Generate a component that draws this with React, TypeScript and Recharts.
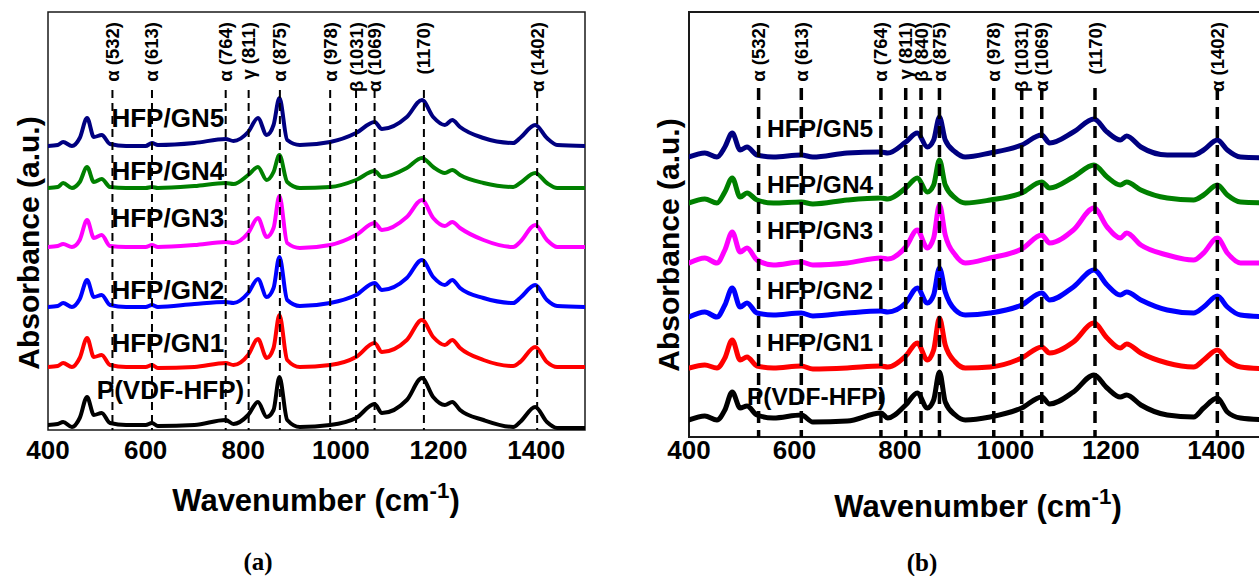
import React from 'react';
import {
  LineChart,
  Line,
  XAxis,
  YAxis,
  ReferenceLine,
  ReferenceDot,
  ReferenceArea,
} from 'recharts';

const FONT = '"Liberation Sans", Arial, Helvetica, sans-serif';

// ---------- Panel (a) ----------
const wavenumbersA = [
  400, 420, 431, 449, 465, 480, 494, 510, 527, 560, 600, 613, 625, 700, 764, 780, 810, 830, 848,
  862, 874, 890, 916, 978, 1031, 1069, 1084, 1135, 1166, 1189, 1213, 1228, 1244, 1292, 1353, 1367,
  1398, 1422, 1443, 1500,
];
// absorbance (a.u., stacked with vertical offsets)
const pvdfHfpA = [
  5, 6, 8, 3, 12, 33, 15, 17, 7, 5, 5, 7, 4, 5, 10, 6, 15, 28, 13, 20, 53, 10, 3, 5, 12, 26, 17,
  30, 52, 33, 25, 28, 20, 10, 3, 8, 23, 8, 2, 2,
];
const gn1A = [
  63, 64, 67, 63, 72, 92, 73, 75, 65, 63, 63, 65, 62, 63, 67, 65, 75, 91, 72, 82, 115, 70, 63, 65,
  73, 87, 78, 90, 110, 93, 85, 90, 82, 70, 64, 68, 83, 68, 63, 63,
];
const gn2A = [
  123, 124, 127, 123, 131, 150, 133, 135, 125, 123, 123, 125, 123, 126, 128, 127, 137, 151, 133, 142,
  173, 130, 124, 127, 135, 147, 140, 152, 170, 153, 145, 150, 142, 132, 127, 132, 145, 130, 124, 123,
];
const gn3A = [
  183, 184, 186, 183, 190, 210, 192, 195, 184, 183, 183, 185, 183, 185, 188, 187, 197, 212, 193, 202,
  234, 187, 182, 185, 195, 207, 200, 213, 230, 212, 204, 208, 202, 190, 183, 188, 205, 190, 183, 183,
];
const gn4A = [
  242, 243, 247, 242, 248, 263, 248, 251, 243, 242, 242, 243, 242, 244, 247, 246, 255, 263, 250, 258,
  275, 248, 242, 243, 250, 259, 253, 262, 272, 263, 257, 260, 255, 247, 243, 247, 257, 247, 242, 242,
];
const gn5A = [
  284, 285, 288, 284, 292, 312, 293, 295, 286, 284, 284, 287, 285, 287, 291, 289, 298, 312, 295, 305,
  332, 290, 285, 288, 297, 308, 301, 313, 330, 313, 305, 310, 303, 292, 287, 292, 305, 292, 285, 284,
];
const bandWnA = [532, 613, 764, 811, 875, 978, 1031, 1069, 1170, 1402];
const bandTextA = ['α (532)', 'α (613)', 'α (764)', 'γ (811)', 'α (875)', 'α (978)', 'β (1031)', 'α (1069)', '(1170)', 'α (1402)'];
const sampleAnchorsA = [
  [530, 312],
  [530, 259],
  [530, 212],
  [530, 140],
  [530, 87],
  [500, 40],
];

// ---------- Panel (b) ----------
const wavenumbersB = [
  400, 430, 453, 468, 482, 497, 510, 529, 560, 613, 635, 700, 764, 777, 811, 833, 852, 864, 875, 886,
  905, 924, 971, 1031, 1069, 1084, 1129, 1168, 1193, 1218, 1230, 1257, 1307, 1357, 1376, 1402, 1421,
  1446, 1500,
];
const pvdfHfpB = [
  17, 21, 17, 27, 45, 29, 31, 22, 19, 22, 15, 16, 24, 19, 32, 44, 29, 37, 65, 35, 22, 17, 20, 29, 40,
  33, 45, 62, 49, 40, 42, 32, 22, 20, 29, 39, 25, 19, 17,
];
const gn1B = [
  69, 72, 69, 79, 97, 77, 80, 71, 69, 71, 68, 69, 71, 70, 81, 94, 77, 87, 119, 92, 75, 69, 70, 79, 90,
  84, 95, 114, 99, 89, 93, 84, 74, 70, 77, 87, 77, 70, 68,
];
const gn2B = [
  120, 125, 120, 132, 149, 130, 134, 124, 122, 124, 121, 124, 126, 125, 134, 149, 134, 142, 169, 145,
  127, 122, 124, 132, 144, 137, 150, 167, 152, 142, 145, 137, 127, 124, 130, 141, 130, 122, 120,
];
const gn3B = [
  174, 179, 174, 187, 205, 185, 189, 177, 172, 175, 172, 174, 179, 178, 190, 207, 189, 199, 232, 202,
  182, 174, 179, 188, 202, 194, 207, 229, 210, 199, 204, 192, 182, 177, 184, 199, 184, 174, 174,
];
const gn4B = [
  234, 238, 234, 245, 259, 240, 244, 237, 234, 235, 233, 237, 239, 238, 249, 259, 245, 252, 277, 252,
  239, 234, 237, 244, 255, 249, 260, 272, 260, 252, 255, 247, 239, 237, 242, 252, 242, 235, 234,
];
const gn5B = [
  280, 284, 280, 290, 304, 287, 290, 282, 280, 282, 280, 284, 285, 284, 295, 304, 290, 297, 320, 297,
  285, 280, 284, 292, 302, 294, 305, 318, 305, 297, 301, 290, 282, 282, 287, 297, 287, 280, 279,
];
const bandWnB = [532, 613, 764, 811, 840, 875, 978, 1031, 1069, 1170, 1402];
const bandTextB = ['α (532)', 'α (613)', 'α (764)', 'γ (811)', 'β (840)', 'α (875)', 'α (978)', 'β (1031)', 'α (1069)', '(1170)', 'α (1402)'];
const sampleAnchorsB = [
  [548, 309],
  [548, 253],
  [548, 207],
  [548, 147],
  [548, 95],
  [510, 41],
];

const sampleNames = ['HFP/GN5', 'HFP/GN4', 'HFP/GN3', 'HFP/GN2', 'HFP/GN1', 'P(VDF-HFP)'];
const xTicks = [400, 600, 800, 1000, 1200, 1400];
const colors = ['#000000', '#ff0000', '#0000ff', '#ff00ff', '#008000', '#000080'];

type Panel = {
  left: number;
  width: number;
  plotLeft: number;
  plotRight: number;
  plotTop: number;
  plotBottom: number;
  yMax: number;
  wn: number[];
  values: number[][];
  bandWn: number[];
  bandText: string[];
  bandTop: number;
  sampleAnchors: number[][];
  sampleFont: number;
  strokeWidth: number;
  dash: string;
  dashWidth: number;
  tickMargin: number;
  titleX: number;
  titleY: number;
  titleFont: number;
  yTitleY: number;
  frameWidth: number;
};

const H = 576;

function SpectraPanel(p: Panel) {
  const series = p.values.map((vals, i) => ({
    color: colors[i],
    points: p.wn.map((w, j) => ({ wn: w, v: vals[j] })),
  }));
  return (
    <div style={{ position: 'absolute', left: p.left, top: 0 }}>
      <LineChart
        width={p.width}
        height={H}
        margin={{ top: p.plotTop, left: p.plotLeft, right: p.width - p.plotRight, bottom: 0 }}
      >
        <XAxis
          type="number"
          dataKey="wn"
          domain={[400, 1500]}
          ticks={xTicks}
          allowDataOverflow
          height={H - p.plotBottom}
          axisLine={false}
          tickLine={false}
          tickSize={0}
          tickMargin={p.tickMargin}
          tick={{ fontSize: 26, fontWeight: 700, fill: '#000', fontFamily: FONT }}
          label={{
            content: () => (
              <g>
                <text
                  x={p.titleX}
                  y={p.titleY}
                  textAnchor="middle"
                  fontFamily={FONT}
                  fontWeight={700}
                  fontSize={p.titleFont}
                  fill="#000"
                >
                  Wavenumber (cm
                  <tspan fontSize={p.titleFont * 0.72} dy={-p.titleFont * 0.42}>
                    -1
                  </tspan>
                  <tspan dy={p.titleFont * 0.42}>)</tspan>
                </text>
                <text
                  x={39}
                  y={p.yTitleY}
                  transform={`rotate(-90, 39, ${p.yTitleY})`}
                  textAnchor="middle"
                  fontFamily={FONT}
                  fontWeight={700}
                  fontSize={30}
                  fill="#000"
                >
                  Absorbance (a.u.)
                </text>
              </g>
            ),
          }}
        />
        <YAxis
          type="number"
          domain={[0, p.yMax]}
          allowDataOverflow
          width={0}
          tick={false}
          axisLine={false}
          tickLine={false}
        />
        {series.map((s, i) => (
          <Line
            key={i}
            data={s.points}
            dataKey="v"
            type="monotone"
            stroke={s.color}
            strokeWidth={p.strokeWidth}
            strokeLinejoin="round"
            strokeLinecap="round"
            dot={false}
            activeDot={false}
            isAnimationActive={false}
          />
        ))}
        {p.bandWn.map((w, i) => (
          <ReferenceLine
            key={'l' + i}
            segment={[
              { x: w, y: p.bandTop },
              { x: w, y: 0 },
            ]}
            stroke="#000"
            strokeWidth={p.dashWidth}
            strokeDasharray={p.dash}
          />
        ))}
        {p.bandWn.map((w, i) => (
          <ReferenceDot
            key={'t' + i}
            x={w}
            y={p.bandTop}
            r={0}
            fill="none"
            stroke="none"
            label={(props: any) => {
              const vb = props.viewBox || {};
              const cx = (vb.x ?? 0) + (vb.width ?? 0) / 2 + 6.5;
              return (
                <text
                  x={cx}
                  y={22}
                  transform={`rotate(-90, ${cx}, 22)`}
                  textAnchor="end"
                  fontFamily={FONT}
                  fontWeight={700}
                  fontSize={18.5}
                  fill="#000"
                >
                  {p.bandText[i]}
                </text>
              );
            }}
          />
        ))}
        {p.sampleAnchors.map((a, i) => (
          <ReferenceDot
            key={'s' + i}
            x={a[0]}
            y={a[1]}
            r={0}
            fill="none"
            stroke="none"
            label={(props: any) => {
              const vb = props.viewBox || {};
              return (
                <text
                  x={vb.x ?? 0}
                  y={(vb.y ?? 0) + p.sampleFont * 0.36}
                  textAnchor="start"
                  fontFamily={FONT}
                  fontWeight={700}
                  fontSize={p.sampleFont}
                  fill="#000"
                >
                  {sampleNames[i]}
                </text>
              );
            }}
          />
        ))}
        <ReferenceArea
          x1={400}
          x2={1500}
          y1={0}
          y2={p.yMax}
          fill="none"
          stroke="#1a1a1a"
          strokeWidth={p.frameWidth}
          ifOverflow="visible"
        />
      </LineChart>
    </div>
  );
}

const captionStyle: React.CSSProperties = {
  position: 'absolute',
  width: 60,
  textAlign: 'center',
  fontFamily: '"Liberation Serif", "Times New Roman", serif',
  fontWeight: 700,
  fontSize: 25,
  lineHeight: '28px',
};

export default function App() {
  return (
    <div
      style={{
        position: 'fixed',
        left: 0,
        top: 0,
        width: 1259,
        height: 576,
        overflow: 'hidden',
        background: '#fff',
      }}
    >
      <SpectraPanel
        left={0}
        width={600}
        plotLeft={48}
        plotRight={585}
        plotTop={12}
        plotBottom={430}
        yMax={418}
        wn={wavenumbersA}
        values={[pvdfHfpA, gn1A, gn2A, gn3A, gn4A, gn5A]}
        bandWn={bandWnA}
        bandText={bandTextA}
        bandTop={340}
        sampleAnchors={sampleAnchorsA}
        sampleFont={26}
        strokeWidth={4}
        dash="8 5"
        dashWidth={2}
        tickMargin={11}
        titleX={316}
        titleY={511}
        titleFont={31}
        yTitleY={243}
        frameWidth={1.5}
      />
      <SpectraPanel
        left={640}
        width={650}
        plotLeft={49}
        plotRight={629}
        plotTop={12}
        plotBottom={437}
        yMax={425}
        wn={wavenumbersB}
        values={[pvdfHfpB, gn1B, gn2B, gn3B, gn4B, gn5B]}
        bandWn={bandWnB}
        bandText={bandTextB}
        bandTop={349}
        sampleAnchors={sampleAnchorsB}
        sampleFont={24.5}
        strokeWidth={5}
        dash="12 7"
        dashWidth={3.5}
        tickMargin={4}
        titleX={338}
        titleY={517}
        titleFont={31}
        yTitleY={245}
        frameWidth={2}
      />
      <div style={{ ...captionStyle, left: 228, top: 548 }}>(a)</div>
      <div style={{ ...captionStyle, left: 892, top: 549 }}>(b)</div>
    </div>
  );
}
